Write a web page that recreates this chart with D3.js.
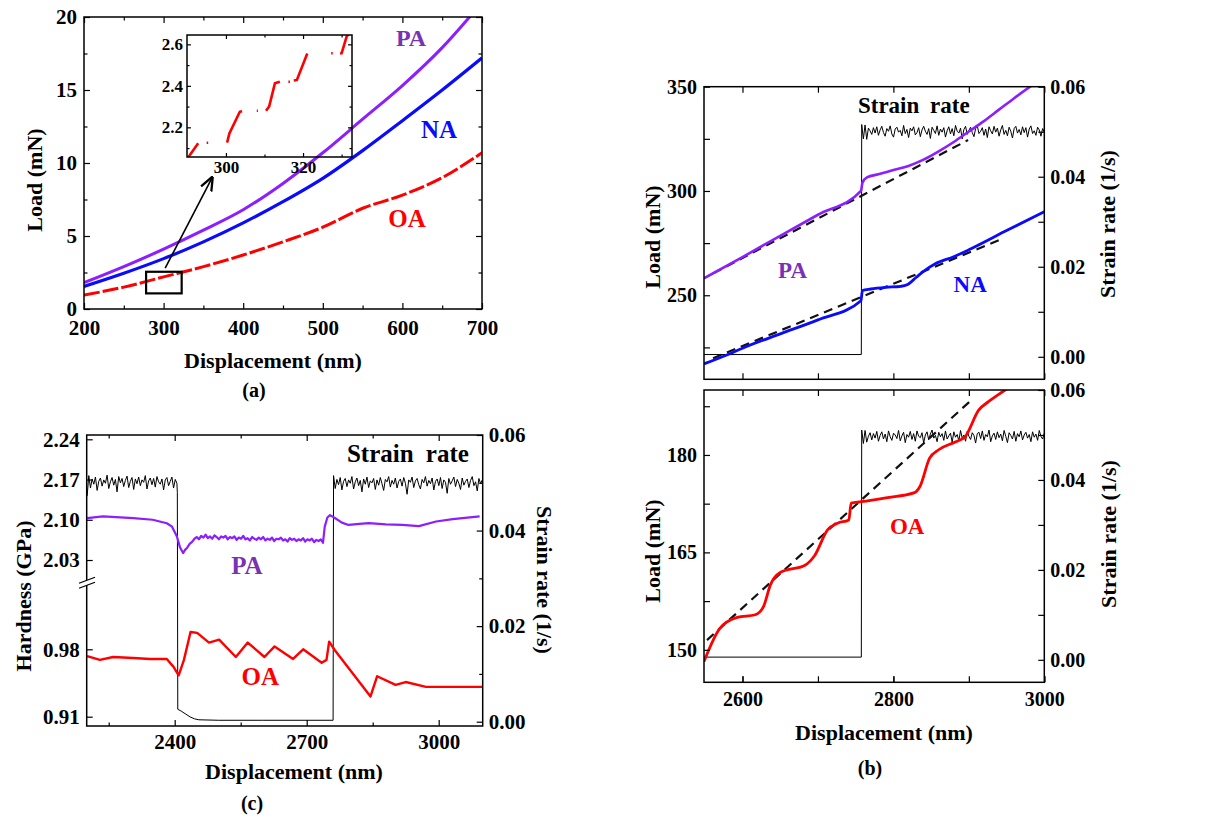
<!DOCTYPE html>
<html>
<head>
<meta charset="utf-8">
<script src="https://cdn.jsdelivr.net/npm/d3@7"></script>
<style>body{margin:0;background:#fff}</style>
</head>
<body>
<div id="chart"></div>
<script>
// ---------- data ----------
// (a) load vs displacement
const aDisp = [200,250,300,350,400,450,500,550,600,650,700];
const aPA = [1.8,2.9,4.1,5.4,6.8,8.6,10.7,13.0,15.3,17.9,21.0];
const aNA = [1.55,2.45,3.45,4.6,5.9,7.35,8.95,10.85,12.9,15.0,17.2];
const aOA = [0.95,1.5,2.2,2.9,3.7,4.6,5.6,6.9,7.8,9.0,10.7];
const aXTicks = [200,300,400,500,600,700], aXMinor = [250,350,450,550,650];
const aYTicks = [0,5,10,15,20], aYMinor = [2.5,7.5,12.5,17.5];

// (a) inset: OA pop-in steps (null = gap)
const insetOA = [[290.2,2.055],[292.8,2.123],null,[295,2.126],[295.4,2.126],null,
  [300.3,2.126],[300.9,2.171],[303.6,2.275],[304.2,2.278],null,[308,2.28],[308.3,2.28],null,
  [310.4,2.28],[311.2,2.3],[312.7,2.412],[314,2.42],null,[316.2,2.42],[316.6,2.42],null,
  [317.6,2.426],[318.4,2.428],[321.1,2.556],null,[327.3,2.557],[327.7,2.557],null,
  [329.6,2.556],[330,2.557],[331.3,2.637],[331.8,2.65]];
const insetXTicks = [300,320], insetXMinor = [310,330];
const insetYTicks = [2.2,2.4,2.6], insetYMinor = [2.1,2.3,2.5];
const insetBox = [[278,1.07],[322.7,2.55]];
const insetArrow = [[302,2.8],[361,9.0]];

// (b) load vs displacement with strain-rate jump
const bPA = [[2549,258.1],[2600,268.3],[2650,278.5],[2700,288.6],[2757,300.0],[2759,304.0],
  [2765,306.5],[2780,308.0],[2800,310.0],[2820,312.0],[2840,315.0],[2860,319.0],[2880,323.5],
  [2900,328.5],[2920,333.5],[2940,339.0],[2960,344.5],[2983,350.5]];
const bNA = [[2549,217.1],[2580,221.5],[2600,224.6],[2650,231.5],[2700,238.2],[2757,247.4],
  [2759,252.3],[2770,253.0],[2790,253.8],[2810,254.3],[2818,255.0],[2830,258.5],[2840,261.5],
  [2855,265.0],[2880,268.5],[2900,271.8],[2950,281.0],[3000,290.1]];
const bPAfit = [[2561,260.5],[2899,324.4]];
const bNAfit = [[2561,219.8],[2946,277.3]];
const bOA = [[2549,148.2],[2570,153.3],[2593,155.0],[2617,155.4],[2628,156.7],[2637,160.0],
  [2650,161.9],[2684,163.1],[2695,164.4],[2713,168.5],[2726,169.5],[2741,170.0],[2744,172.6],
  [2757,172.8],[2790,173.4],[2828,174.2],[2835,175.1],[2848,179.5],[2860,180.8],[2882,182.0],
  [2895,182.8],[2913,186.9],[2926,188.2],[2948,190.0],[2960,191.0]];
const bOAfit = [[2553,151.5],[2901,188.2]];
const bRateTopBase = [[2549,0.0005],[2757.5,0.0005]];
const bRateTopNoise = [0.0516,0.0484,0.0515,0.0483,0.0508,0.0502,0.0494,0.0509,0.0497,0.0511,
  0.0492,0.0504,0.0512,0.0498,0.0490,0.0507,0.0501,0.0513,0.0495,0.0488,
  0.0506,0.0510,0.0499,0.0503,0.0491,0.0514,0.0496,0.0505,0.0487,0.0508,
  0.0502,0.0511,0.0493,0.0498,0.0509,0.0489,0.0504,0.0512,0.0501,0.0494,
  0.0507,0.0485,0.0510,0.0503,0.0496,0.0513,0.0492,0.0506,0.0499,0.0509,
  0.0488,0.0502,0.0511,0.0495,0.0507,0.0491,0.0514,0.0501,0.0497,0.0508,
  0.0484,0.0505,0.0512,0.0494,0.0503,0.0510,0.0498,0.0489,0.0507,0.0513,
  0.0496,0.0501,0.0509,0.0492,0.0506,0.0487,0.0511,0.0502,0.0495,0.0512,
  0.0499,0.0508,0.0490,0.0504,0.0514,0.0494,0.0503,0.0491,0.0510,0.0501,
  0.0486,0.0507,0.0512,0.0497,0.0505,0.0493,0.0511,0.0498,0.0509,0.0488,
  0.0506,0.0513,0.0496,0.0502,0.0492,0.0510,0.0504,0.0490,0.0507,0.0499];
const bRateBotBase = [[2549,0.0006],[2757.5,0.0006]];
const bRateBotNoise = [0.0511,0.0481,0.0510,0.0484,0.0497,0.0505,0.0489,0.0503,0.0493,0.0508,
  0.0486,0.0499,0.0507,0.0491,0.0502,0.0485,0.0509,0.0496,0.0488,0.0504,
  0.0500,0.0492,0.0510,0.0487,0.0498,0.0506,0.0483,0.0501,0.0495,0.0508,
  0.0490,0.0503,0.0486,0.0509,0.0497,0.0494,0.0505,0.0482,0.0500,0.0507,
  0.0489,0.0502,0.0511,0.0493,0.0499,0.0485,0.0506,0.0496,0.0503,0.0488,
  0.0509,0.0491,0.0498,0.0504,0.0484,0.0507,0.0495,0.0501,0.0487,0.0510,
  0.0493,0.0500,0.0486,0.0508,0.0497,0.0490,0.0505,0.0499,0.0482,0.0503,
  0.0506,0.0492,0.0509,0.0488,0.0501,0.0496,0.0511,0.0485,0.0498,0.0504,
  0.0490,0.0507,0.0494,0.0502,0.0487,0.0510,0.0497,0.0483,0.0505,0.0499,
  0.0491,0.0508,0.0486,0.0503,0.0496,0.0509,0.0489,0.0500,0.0506,0.0493,
  0.0501,0.0485,0.0507,0.0495,0.0502,0.0488,0.0510,0.0497,0.0491,0.0504];
const bXTicks = [2600,2800,3000], bXMinor = [2700,2900];
const bTopYTicks = [250,300,350], bTopYMinor = [225,275,325];
const bBotYTicks = [150,165,180], bBotYMinor = [157.5,172.5,187.5];
const rateTicks = [0,0.02,0.04,0.06], rateMinor = [0.01,0.03,0.05];

// (c) hardness vs displacement
const cPAStart = [[2201,2.103],[2237,2.106],[2306,2.103],[2350,2.100],[2382,2.094],[2394,2.088],[2405,2.071],
  [2412,2.052],[2419,2.042],[2424,2.048],[2428,2.051],[2434,2.058]];
const cPAPlateau = [2.062,2.067,2.070,2.066,2.072,2.069,2.074,2.068,2.071,2.067,
  2.073,2.070,2.066,2.071,2.069,2.072,2.066,2.070,2.068,2.071,
  2.065,2.069,2.067,2.072,2.066,2.068,2.064,2.070,2.067,2.065,
  2.069,2.066,2.070,2.064,2.067,2.065,2.069,2.063,2.067,2.066,
  2.069,2.064,2.066,2.062,2.068,2.065,2.067,2.063,2.066,2.064,
  2.068,2.062,2.066,2.064,2.067,2.061,2.065,2.063,2.066,2.060];
const cPAEnd = [[2741,2.088],[2747,2.104],[2753,2.108],[2764,2.103],[2780,2.095],[2795,2.091],[2820,2.093],
  [2841,2.094],[2880,2.092],[2917,2.091],[2955,2.089],[2994,2.097],[3032,2.101],[3093,2.106]];
const cOA = [[2201,0.973],[2230,0.969],[2260,0.972],[2306,0.971],[2344,0.970],[2382,0.970],[2397,0.962],
  [2409,0.953],[2421,0.969],[2436,0.998],[2451,0.997],[2478,0.987],[2501,0.990],[2539,0.972],[2566,0.987],
  [2604,0.972],[2627,0.983],[2669,0.970],[2692,0.980],[2734,0.966],[2745,0.969],[2751,0.988],[2764,0.979],
  [2845,0.931],[2860,0.952],[2902,0.943],[2925,0.946],[2971,0.941],[3101,0.941]];
const cRateLeftNoise = [0.0472,0.0515,0.0489,0.0508,0.0497,0.0512,0.0484,0.0503,0.0510,0.0493,
  0.0506,0.0499,0.0516,0.0488,0.0502,0.0511,0.0495,0.0507,0.0481,0.0513,
  0.0500,0.0509,0.0492,0.0505,0.0514,0.0490,0.0503,0.0511,0.0486,0.0508,
  0.0498,0.0512,0.0494,0.0506,0.0501,0.0515,0.0487,0.0504,0.0510,0.0496,
  0.0509,0.0491,0.0513,0.0502,0.0497,0.0508,0.0485,0.0506,0.0511,0.0494,
  0.0503,0.0512,0.0489,0.0507,0.0499];
const cRateMid = [[2406,0.0480],[2407,0.0026],[2415,0.0022],[2425,0.0016],[2435,0.0010],[2445,0.0006],
  [2455,0.0004],[2500,0.0003],[2600,0.0003],[2760,0.0003]];
const cRateRightNoise = [0.0515,0.0488,0.0507,0.0496,0.0511,0.0485,0.0503,0.0509,0.0492,0.0506,
  0.0499,0.0513,0.0487,0.0502,0.0510,0.0494,0.0505,0.0481,0.0508,0.0497,
  0.0512,0.0490,0.0504,0.0500,0.0509,0.0486,0.0506,0.0495,0.0511,0.0498,
  0.0484,0.0507,0.0502,0.0513,0.0491,0.0505,0.0497,0.0510,0.0489,0.0503,
  0.0508,0.0493,0.0511,0.0499,0.0476,0.0506,0.0501,0.0512,0.0490,0.0504,
  0.0509,0.0496,0.0487,0.0507,0.0500,0.0513,0.0493,0.0505,0.0498,0.0510,
  0.0485,0.0503,0.0508,0.0494,0.0511,0.0488,0.0506,0.0501,0.0478,0.0509,
  0.0497,0.0504,0.0512,0.0492,0.0507,0.0499,0.0486,0.0510,0.0495,0.0503,
  0.0508,0.0490,0.0505,0.0513,0.0494,0.0502,0.0483,0.0509,0.0498,0.0506];
const cXTicks = [2400,2700,3000], cXMinor = [2250,2550,2850];
const cHighTicks = [2.03,2.10,2.17,2.24], cLowTicks = [0.91,0.98];
const cBreakH = 1.993;

// ---------- drawing ----------
const FONT = "'Liberation Serif','Times New Roman',Times,serif";
const PURPLE = "#8c1eff", PURPLE_TXT = "#7a32b4", BLUE = "#0a0aff", RED = "#ff0000";
const svg = d3.select("#chart").append("svg").attr("width", 1211).attr("height", 821)
  .style("background", "#fff");

function ax(g, gen, scale, tf, vals, len, fmt, pad, fs) {
  const a = gen(scale).tickValues(vals).tickSize(-len).tickPadding(pad || 6)
    .tickFormat(fmt ? fmt : () => "");
  const s = g.append("g").attr("transform", tf).call(a);
  s.select(".domain").remove();
  s.selectAll("line").attr("stroke", "#000").attr("stroke-width", 1.2);
  s.selectAll("text").attr("font-family", FONT).attr("font-weight", "bold")
    .attr("font-size", (fs || 20) + "px").attr("fill", "#000");
  return s;
}
function box(g, x, y) {
  const [x0, x1] = x.range(), [y0, y1] = y.range();
  g.append("rect").attr("x", x0).attr("y", Math.min(y0, y1)).attr("width", x1 - x0)
    .attr("height", Math.abs(y0 - y1)).attr("fill", "none").attr("stroke", "#000").attr("stroke-width", 1.5);
}
function clip(id, x, y) {
  const [x0, x1] = x.range(), [y0, y1] = y.range();
  svg.append("clipPath").attr("id", id).append("rect").attr("x", x0).attr("y", Math.min(y0, y1))
    .attr("width", x1 - x0).attr("height", Math.abs(y0 - y1));
}
function label(txt, x, y, rot, fs, color, ws) {
  const t = svg.append("text").attr("transform", `translate(${x},${y}) rotate(${rot || 0})`)
    .attr("text-anchor", "middle").attr("dy", "0.35em").attr("font-family", FONT)
    .attr("font-weight", "bold").attr("font-size", fs + "px").attr("fill", color || "#000").text(txt);
  if (ws) t.attr("word-spacing", ws + "px");
  return t;
}
const lineOf = (x, y, curve) => d3.line().defined(d => d !== null)
  .x(d => x(d[0])).y(d => y(d[1])).curve(curve || d3.curveLinear);
function path(g, data, gen, color, w, dash) {
  const p = g.append("path").datum(data).attr("d", gen).attr("fill", "none")
    .attr("stroke", color).attr("stroke-width", w).attr("stroke-linejoin", "round");
  if (dash) p.attr("stroke-dasharray", dash);
  return p;
}
// place a list of read values at evenly spaced displacements
const spread = (vals, x0, x1) => vals.map((v, i) => [x0 + i * (x1 - x0) / (vals.length - 1), v]);

// ===== panel (a) =====
const xa = d3.scaleLinear().domain([200, 700]).range([84, 482]);
const ya = d3.scaleLinear().domain([0, 20]).range([309, 17]);
clip("clipA", xa, ya);
const ga = svg.append("g");
const gaData = ga.append("g").attr("clip-path", "url(#clipA)");
path(gaData, aDisp.map((d, i) => [d, aOA[i]]), lineOf(xa, ya, d3.curveMonotoneX), RED, 3, "16,3");
path(gaData, aDisp.map((d, i) => [d, aNA[i]]), lineOf(xa, ya, d3.curveMonotoneX), BLUE, 3.2);
path(gaData, aDisp.map((d, i) => [d, aPA[i]]), lineOf(xa, ya, d3.curveMonotoneX), PURPLE, 3);
ax(ga, d3.axisBottom, xa, "translate(0,309)", aXTicks, 6, d3.format("d"), 11, 21);
ax(ga, d3.axisBottom, xa, "translate(0,309)", aXMinor, 3.5);
ax(ga, d3.axisTop, xa, "translate(0,17)", aXTicks, 6);
ax(ga, d3.axisTop, xa, "translate(0,17)", aXMinor, 3.5);
ax(ga, d3.axisLeft, ya, "translate(84,0)", aYTicks, 6, d3.format("d"), 7, 21);
ax(ga, d3.axisLeft, ya, "translate(84,0)", aYMinor, 3.5);
ax(ga, d3.axisRight, ya, "translate(482,0)", aYTicks, 6);
ax(ga, d3.axisRight, ya, "translate(482,0)", aYMinor, 3.5);
box(ga, xa, ya);
// zoom box and arrow
ga.append("rect").attr("x", xa(insetBox[0][0])).attr("y", ya(insetBox[1][1]))
  .attr("width", xa(insetBox[1][0]) - xa(insetBox[0][0])).attr("height", ya(insetBox[0][1]) - ya(insetBox[1][1]))
  .attr("fill", "none").attr("stroke", "#000").attr("stroke-width", 2.2);
svg.append("defs").append("marker").attr("id", "arr").attr("viewBox", "0 0 10 10").attr("refX", 9).attr("refY", 5)
  .attr("markerWidth", 9).attr("markerHeight", 9).attr("orient", "auto")
  .append("path").attr("d", "M0,1 L10,5 L0,9").attr("fill", "none").attr("stroke", "#000").attr("stroke-width", 1.6);
ga.append("line").attr("x1", xa(insetArrow[0][0])).attr("y1", ya(insetArrow[0][1]))
  .attr("x2", xa(insetArrow[1][0])).attr("y2", ya(insetArrow[1][1]))
  .attr("stroke", "#000").attr("stroke-width", 1.6).attr("marker-end", "url(#arr)");
// inset
const xi = d3.scaleLinear().domain([289.9, 332.7]).range([187, 352]);
const yi = d3.scaleLinear().domain([2.057, 2.645]).range([157, 35]);
clip("clipI", xi, yi);
const gi = svg.append("g");
path(gi.append("g").attr("clip-path", "url(#clipI)"), insetOA, lineOf(xi, yi), RED, 2.6);
ax(gi, d3.axisBottom, xi, "translate(0,157)", insetXTicks, 4, d3.format("d"), 4, 17);
ax(gi, d3.axisBottom, xi, "translate(0,157)", insetXMinor, 2.5);
ax(gi, d3.axisTop, xi, "translate(0,35)", insetXTicks, 4);
ax(gi, d3.axisTop, xi, "translate(0,35)", insetXMinor, 2.5);
ax(gi, d3.axisLeft, yi, "translate(187,0)", insetYTicks, 4, d3.format(".1f"), 4, 17);
ax(gi, d3.axisLeft, yi, "translate(187,0)", insetYMinor, 2.5);
ax(gi, d3.axisRight, yi, "translate(352,0)", insetYTicks, 4);
ax(gi, d3.axisRight, yi, "translate(352,0)", insetYMinor, 2.5);
box(gi, xi, yi);
label("PA", xa(610.8), ya(18.6), 0, 24, PURPLE_TXT);
label("NA", xa(646), ya(12.3), 0, 25, BLUE);
label("OA", xa(605.8), ya(6.2), 0, 25, RED);
label("Load (mN)", 34, 180, -90, 22);
label("Displacement (nm)", 273, 360, 0, 22);
label("(a)", 254, 390, 0, 20);

// ===== panel (b) =====
const xb = d3.scaleLinear().domain([2549, 3000]).range([704, 1044.3]);
const ybT = d3.scaleLinear().domain([209.7, 350]).range([379.3, 86.7]);
const rbT = d3.scaleLinear().domain([-0.005, 0.06]).range([379.3, 86.7]);
const ybB = d3.scaleLinear().domain([145, 190]).range([682.3, 390]);
const rbB = d3.scaleLinear().domain([-0.005, 0.06]).range([682.3, 390]);
clip("clipBT", xb, ybT);
clip("clipBB", xb, ybB);

function panelB(yL, yR, yTicks, yMinor, clipId) {
  const g = svg.append("g");
  const gd = g.append("g").attr("clip-path", `url(#${clipId})`);
  const [ty, by] = [yL.range()[1], yL.range()[0]];
  ax(g, d3.axisBottom, xb, `translate(0,${by})`, bXTicks, 6);
  ax(g, d3.axisBottom, xb, `translate(0,${by})`, bXMinor, 6);
  ax(g, d3.axisTop, xb, `translate(0,${ty})`, bXTicks, 6);
  ax(g, d3.axisTop, xb, `translate(0,${ty})`, bXMinor, 6);
  ax(g, d3.axisLeft, yL, "translate(704,0)", yTicks, 6, d3.format("d"), 7, 20);
  ax(g, d3.axisLeft, yL, "translate(704,0)", yMinor, 6);
  ax(g, d3.axisRight, yR, "translate(1044.3,0)", rateTicks, 6, d3.format(".2f"), 6, 20);
  ax(g, d3.axisRight, yR, "translate(1044.3,0)", rateMinor, 6);
  box(g, xb, yL);
  return { g, gd };
}
const bt = panelB(ybT, rbT, bTopYTicks, bTopYMinor, "clipBT");
path(bt.gd, bRateTopBase.concat(spread(bRateTopNoise, 2758, 3000)), lineOf(xb, rbT), "#000", 1);
path(bt.gd, bPAfit, lineOf(xb, ybT), "#111", 2.2, "9,6");
path(bt.gd, bNAfit, lineOf(xb, ybT), "#111", 2.2, "9,6");
path(bt.gd, bPA, lineOf(xb, ybT, d3.curveMonotoneX), PURPLE, 2.6);
path(bt.gd, bNA, lineOf(xb, ybT, d3.curveMonotoneX), BLUE, 2.8);
label("Strain rate", xb(2827), ybT(341.2), 0, 23, "#000", 5);
label("PA", xb(2666.3), ybT(262.1), 0, 23, PURPLE_TXT);
label("NA", xb(2901.7), ybT(255.4), 0, 23, BLUE);

const bb = panelB(ybB, rbB, bBotYTicks, bBotYMinor, "clipBB");
path(bb.gd, bRateBotBase.concat(spread(bRateBotNoise, 2758, 3000)), lineOf(xb, rbB), "#000", 1);
path(bb.gd, bOAfit, lineOf(xb, ybB), "#111", 2.2, "9,6");
path(bb.gd, bOA, lineOf(xb, ybB, d3.curveMonotoneX), RED, 2.8);
ax(bb.g, d3.axisBottom, xb, "translate(0,682.3)", bXTicks, 6, d3.format("d"), 10, 20);
label("OA", xb(2818.3), ybB(169.1), 0, 23, RED);
label("Load (mN)", 652, 237, -90, 22);
label("Load (mN)", 652, 551, -90, 22);
label("Strain rate (1/s)", 1107, 224, -90, 22);
label("Strain rate (1/s)", 1108, 534, -90, 22);
label("Displacement (nm)", 884, 732, 0, 22);
label("(b)", 870, 768, 0, 20);

// ===== panel (c) =====
const xc = d3.scaleLinear().domain([2200, 3100]).range([86.7, 482.7]);
const rc = d3.scaleLinear().domain([-0.0009, 0.06]).range([726, 435]);
const hUp = d3.scaleLinear().domain([2.03, 2.24]).range([560, 439.3]);
const hLo = d3.scaleLinear().domain([0.91, 0.98]).range([716.7, 649.3]);
clip("clipC", xc, rc);
const gc = svg.append("g");
const gcd = gc.append("g").attr("clip-path", "url(#clipC)");
const cRate = spread(cRateLeftNoise, 2201, 2405).concat(cRateMid, spread(cRateRightNoise, 2761, 3099));
const cPA = cPAStart.concat(spread(cPAPlateau, 2440, 2737), cPAEnd);
path(gcd, cRate, lineOf(xc, rc), "#000", 1);
path(gcd, cPA, lineOf(xc, hUp), PURPLE, 2.2);
path(gcd, cOA, lineOf(xc, hLo), RED, 2.4);
ax(gc, d3.axisBottom, xc, "translate(0,726)", cXTicks, 6, d3.format("d"), 8, 21);
ax(gc, d3.axisBottom, xc, "translate(0,726)", cXMinor, 3.5);
ax(gc, d3.axisTop, xc, "translate(0,435)", cXTicks, 6);
ax(gc, d3.axisTop, xc, "translate(0,435)", cXMinor, 3.5);
ax(gc, d3.axisLeft, hUp, "translate(86.7,0)", cHighTicks, 6, d3.format(".2f"), 7, 21);
ax(gc, d3.axisLeft, hLo, "translate(86.7,0)", cLowTicks, 6, d3.format(".2f"), 7, 21);
ax(gc, d3.axisRight, rc, "translate(482.7,0)", rateTicks, 6, d3.format(".2f"), 6, 21);
ax(gc, d3.axisRight, rc, "translate(482.7,0)", rateMinor, 3.5);
box(gc, xc, rc);
// axis break marks
const bY = hUp(cBreakH);
gc.append("path").attr("d", `M79,${bY + 2} L95,${bY - 4} L95,${bY + 1} L79,${bY + 7}Z`).attr("fill", "#fff");
gc.append("path").attr("d", `M79,${bY + 2} L95,${bY - 4} M79,${bY + 7} L95,${bY + 1}`)
  .attr("stroke", "#000").attr("stroke-width", 1.3).attr("fill", "none");
label("Strain rate", xc(2930), rc(0.0562), 0, 25, "#000", 6);
label("PA", xc(2564), hUp(2.02), 0, 25, PURPLE_TXT);
label("OA", xc(2594.6), hLo(0.9517), 0, 25, RED);
label("Hardness (GPa)", 23, 596, -90, 22);
label("Strain rate (1/s)", 545, 580, 90, 22);
label("Displacement (nm)", 294, 771, 0, 22);
label("(c)", 252, 803, 0, 20);
</script>
</body>
</html>
